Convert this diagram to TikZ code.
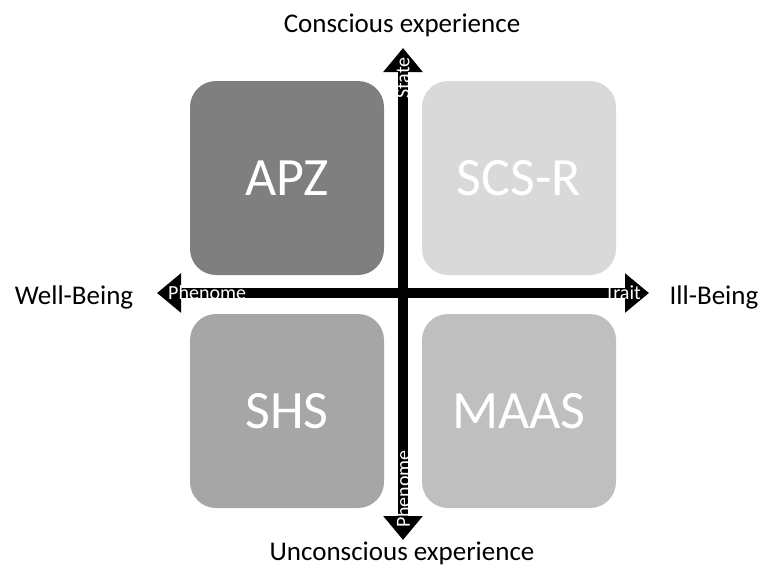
\documentclass[tikz,border=0pt]{standalone}
\usepackage{fontspec}
\setmainfont{Carlito}
\usepackage{tikz}
\usetikzlibrary{arrows.meta}

\definecolor{apzgray}{HTML}{7F7F7F}
\definecolor{scsgray}{HTML}{D9D9D9}
\definecolor{shsgray}{HTML}{A6A6A6}
\definecolor{maasgray}{HTML}{BFBFBF}

\begin{document}
\begin{tikzpicture}[x=1pt,y=-1pt,
		quad/.style={rounded corners=26pt, minimum width=194pt, minimum height=194pt, inner sep=0pt, text=white, font=\fontsize{54}{60}\selectfont},
		axis/.style={line width=10pt, {Triangle[length=24pt,width=38pt]}-{Triangle[length=24pt,width=38pt]}},
		pole/.style={font=\fontsize{27}{32}\selectfont},
		tag/.style={text=white, inner sep=0pt, font=\fontsize{20}{24}\selectfont}]
		\useasboundingbox (0,0) rectangle (762,576);
		\node[quad, fill=apzgray] at (287,178) (apz) {APZ};
		\node[quad, fill=scsgray] at (519,178) (scs) {SCS-R};
		\node[quad, fill=shsgray] at (287,411) (shs) {SHS};
		\node[quad, fill=maasgray] at (519,411) (maas) {MAAS};

		\coordinate (left) at (157,293);
		\coordinate (right) at (649,293);
		\coordinate (top) at (403,48);
		\coordinate (bottom) at (403,540);
		\draw[axis] (left) -- (right);
		\draw[axis] (bottom) -- (top);

		\node[tag, anchor=west] at (168,293) (phh) {Phenome};
		\node[tag, anchor=east] at (641,293) (trait) {Trait};
		\node[tag, rotate=90] at (403,78) (state) {State};
		\node[tag, rotate=90] at (403,489) (phv) {Phenome};

		\node[pole] at (402,25) (ce) {Conscious experience};
		\node[pole] at (402,553) (ue) {Unconscious experience};
		\node[pole] at (74,297) (wb) {Well-Being};
		\node[pole] at (714,297) (ib) {Ill-Being};
	\end{tikzpicture}
\end{document}
